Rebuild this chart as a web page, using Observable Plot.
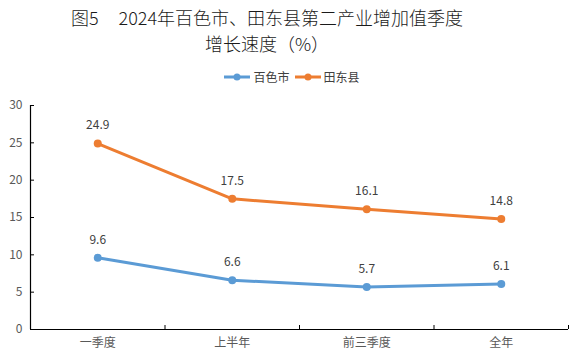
<!DOCTYPE html>
<html>
<head>
<meta charset="utf-8">
<script src="https://cdn.jsdelivr.net/npm/d3@7"></script>
<script src="https://cdn.jsdelivr.net/npm/@observablehq/plot@0.6"></script>
<style>
  html, body { margin: 0; padding: 0; background: #fff; }
  #wrap { position: relative; width: 583px; height: 361px; overflow: hidden;
    font-family: "Microsoft YaHei", "Noto Sans CJK SC", sans-serif; }
  .title { position: absolute; left: 0; width: 534px; text-align: center;
    font-size: 18px; line-height: 18px; color: #1a1a1a; white-space: nowrap; font-weight: 300; }
  #t1 { top: 8px; }
  #t2 { top: 34px; }
  .gap { display: inline-block; width: 20px; }
  #legend { position: absolute; top: 68px; left: 0; width: 583px; display: flex; justify-content: center;
    font-size: 12px; color: #404040; gap: 4px; align-items: center; }
  .item { display: flex; align-items: center; gap: 2px; }
  #chart { position: absolute; left: 0; top: 0; }
</style>
</head>
<body>
<div id="wrap">
  <div id="chart"></div>
  <div class="title" id="t1">图5<span class="gap"></span>2024年百色市、田东县第二产业增加值季度</div>
  <div class="title" id="t2">增长速度（%）</div>
  <div id="legend"></div>
</div>
<script>
const categories = ["一季度", "上半年", "前三季度", "全年"];
const seriesNames = ["百色市", "田东县"];
const baise = [9.6, 6.6, 5.7, 6.1];
const tiandong = [24.9, 17.5, 16.1, 14.8];
const colors = ["#5B9BD5", "#ED7D31"];
const yTicks = [0, 5, 10, 15, 20, 25, 30];

const data = [];
categories.forEach((c, i) => {
  data.push({cat: c, xi: i + 0.5, value: baise[i], series: seriesNames[0]});
  data.push({cat: c, xi: i + 0.5, value: tiandong[i], series: seriesNames[1]});
});

// legend
const legend = document.getElementById("legend");
seriesNames.forEach((s, i) => {
  const it = document.createElement("div");
  it.className = "item";
  it.innerHTML = `<svg width="28" height="10"><line x1="1" x2="27" y1="5" y2="5" stroke="${colors[i]}" stroke-width="3"/><circle cx="14" cy="5" r="3.5" fill="${colors[i]}"/></svg><span>${s}</span>`;
  legend.appendChild(it);
});

const boundaries = d3.range(categories.length + 1);
const centers = categories.map((c, i) => i + 0.5);

const chart = Plot.plot({
  width: 583,
  height: 361,
  marginTop: 105,
  marginBottom: 32,
  marginLeft: 30,
  marginRight: 15,
  style: {fontFamily: '"Microsoft YaHei", "Noto Sans CJK SC", sans-serif', fontSize: "12px", background: "transparent"},
  x: {type: "linear", domain: [0, categories.length], label: null},
  y: {domain: [0, 30], label: null},
  color: {domain: seriesNames, range: colors},
  marks: [
    Plot.axisY({ticks: yTicks, tickSize: 0, tickPadding: 8, fill: "#595959", fontSize: 12, label: null}),
    Plot.axisY({ticks: yTicks, tickSize: -4, tickFormat: () => "", stroke: "#000", label: null}),
    Plot.axisX({ticks: boundaries, tickSize: -4, tickFormat: () => "", stroke: "#000", label: null}),
    Plot.axisX({ticks: centers, tickSize: 0, tickPadding: 9, tickFormat: v => categories[Math.floor(v)], fill: "#595959", fontSize: 12, label: null}),
    Plot.ruleY([0], {stroke: "#000", strokeWidth: 1.2}),
    Plot.ruleX([0], {stroke: "#000", strokeWidth: 1.2, y1: 0, y2: 30}),
    Plot.line(data, {x: "xi", y: "value", z: "series", stroke: "series", strokeWidth: 3, strokeLinejoin: "round", strokeLinecap: "round"}),
    Plot.dot(data, {x: "xi", y: "value", fill: "series", r: 4}),
    Plot.text(data, {x: "xi", y: "value", text: d => d.value.toFixed(1), dy: -18, fill: "#404040", fontSize: 12})
  ]
});
document.getElementById("chart").appendChild(chart);
</script>
</body>
</html>
